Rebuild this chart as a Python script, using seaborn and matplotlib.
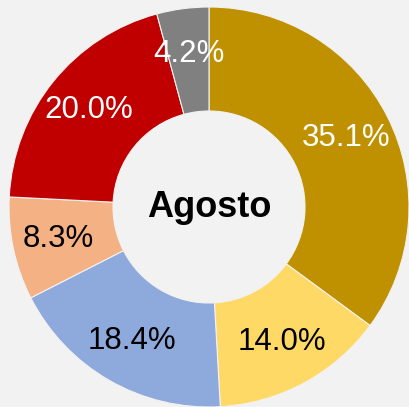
import matplotlib
matplotlib.use('Agg')
import matplotlib.pyplot as plt
import seaborn as sns

sns.set_style('white')
plt.rcParams['font.family'] = ['Liberation Sans', 'DejaVu Sans']

# porcentajes, en sentido horario desde arriba
etiquetas = ['35.1%', '14.0%', '18.4%', '8.3%', '20.0%', '4.2%']
valores = [35.1, 14.0, 18.4, 8.3, 20.0, 4.2]
colores = ['#BF9000', '#FFD966', '#8EA9DB', '#F4B183', '#C00000', '#808080']
color_texto = ['white', 'black', 'black', 'black', 'white', 'white']
titulo = 'Agosto'

fondo = '#F2F2F2'
fig = plt.figure(figsize=(4.09, 4.07), dpi=100, facecolor=fondo)
ax = fig.add_axes([0, 0, 1, 1])
ax.set_facecolor(fondo)

wedges, textos = ax.pie(valores, labels=etiquetas, colors=sns.color_palette(colores),
                        startangle=90, counterclock=False, radius=1.0,
                        labeldistance=0.77,
                        wedgeprops=dict(width=0.52, edgecolor=fondo, linewidth=0.8),
                        textprops=dict(fontsize=22.5, ha='center', va='center'))
for t, c in zip(textos, color_texto):
    t.set_color(c)
    t.set_ha('center')
    t.set_va('center')

ax.text(0, 0, titulo, ha='center', va='center', fontsize=26, fontweight='bold', color='black')

ax.set_xlim(-209 / 200, 200 / 200)
ax.set_ylim(-200 / 200, 207 / 200)
ax.set_aspect('auto')
ax.axis('off')

plt.savefig('out.png', dpi=100, facecolor=fondo)
